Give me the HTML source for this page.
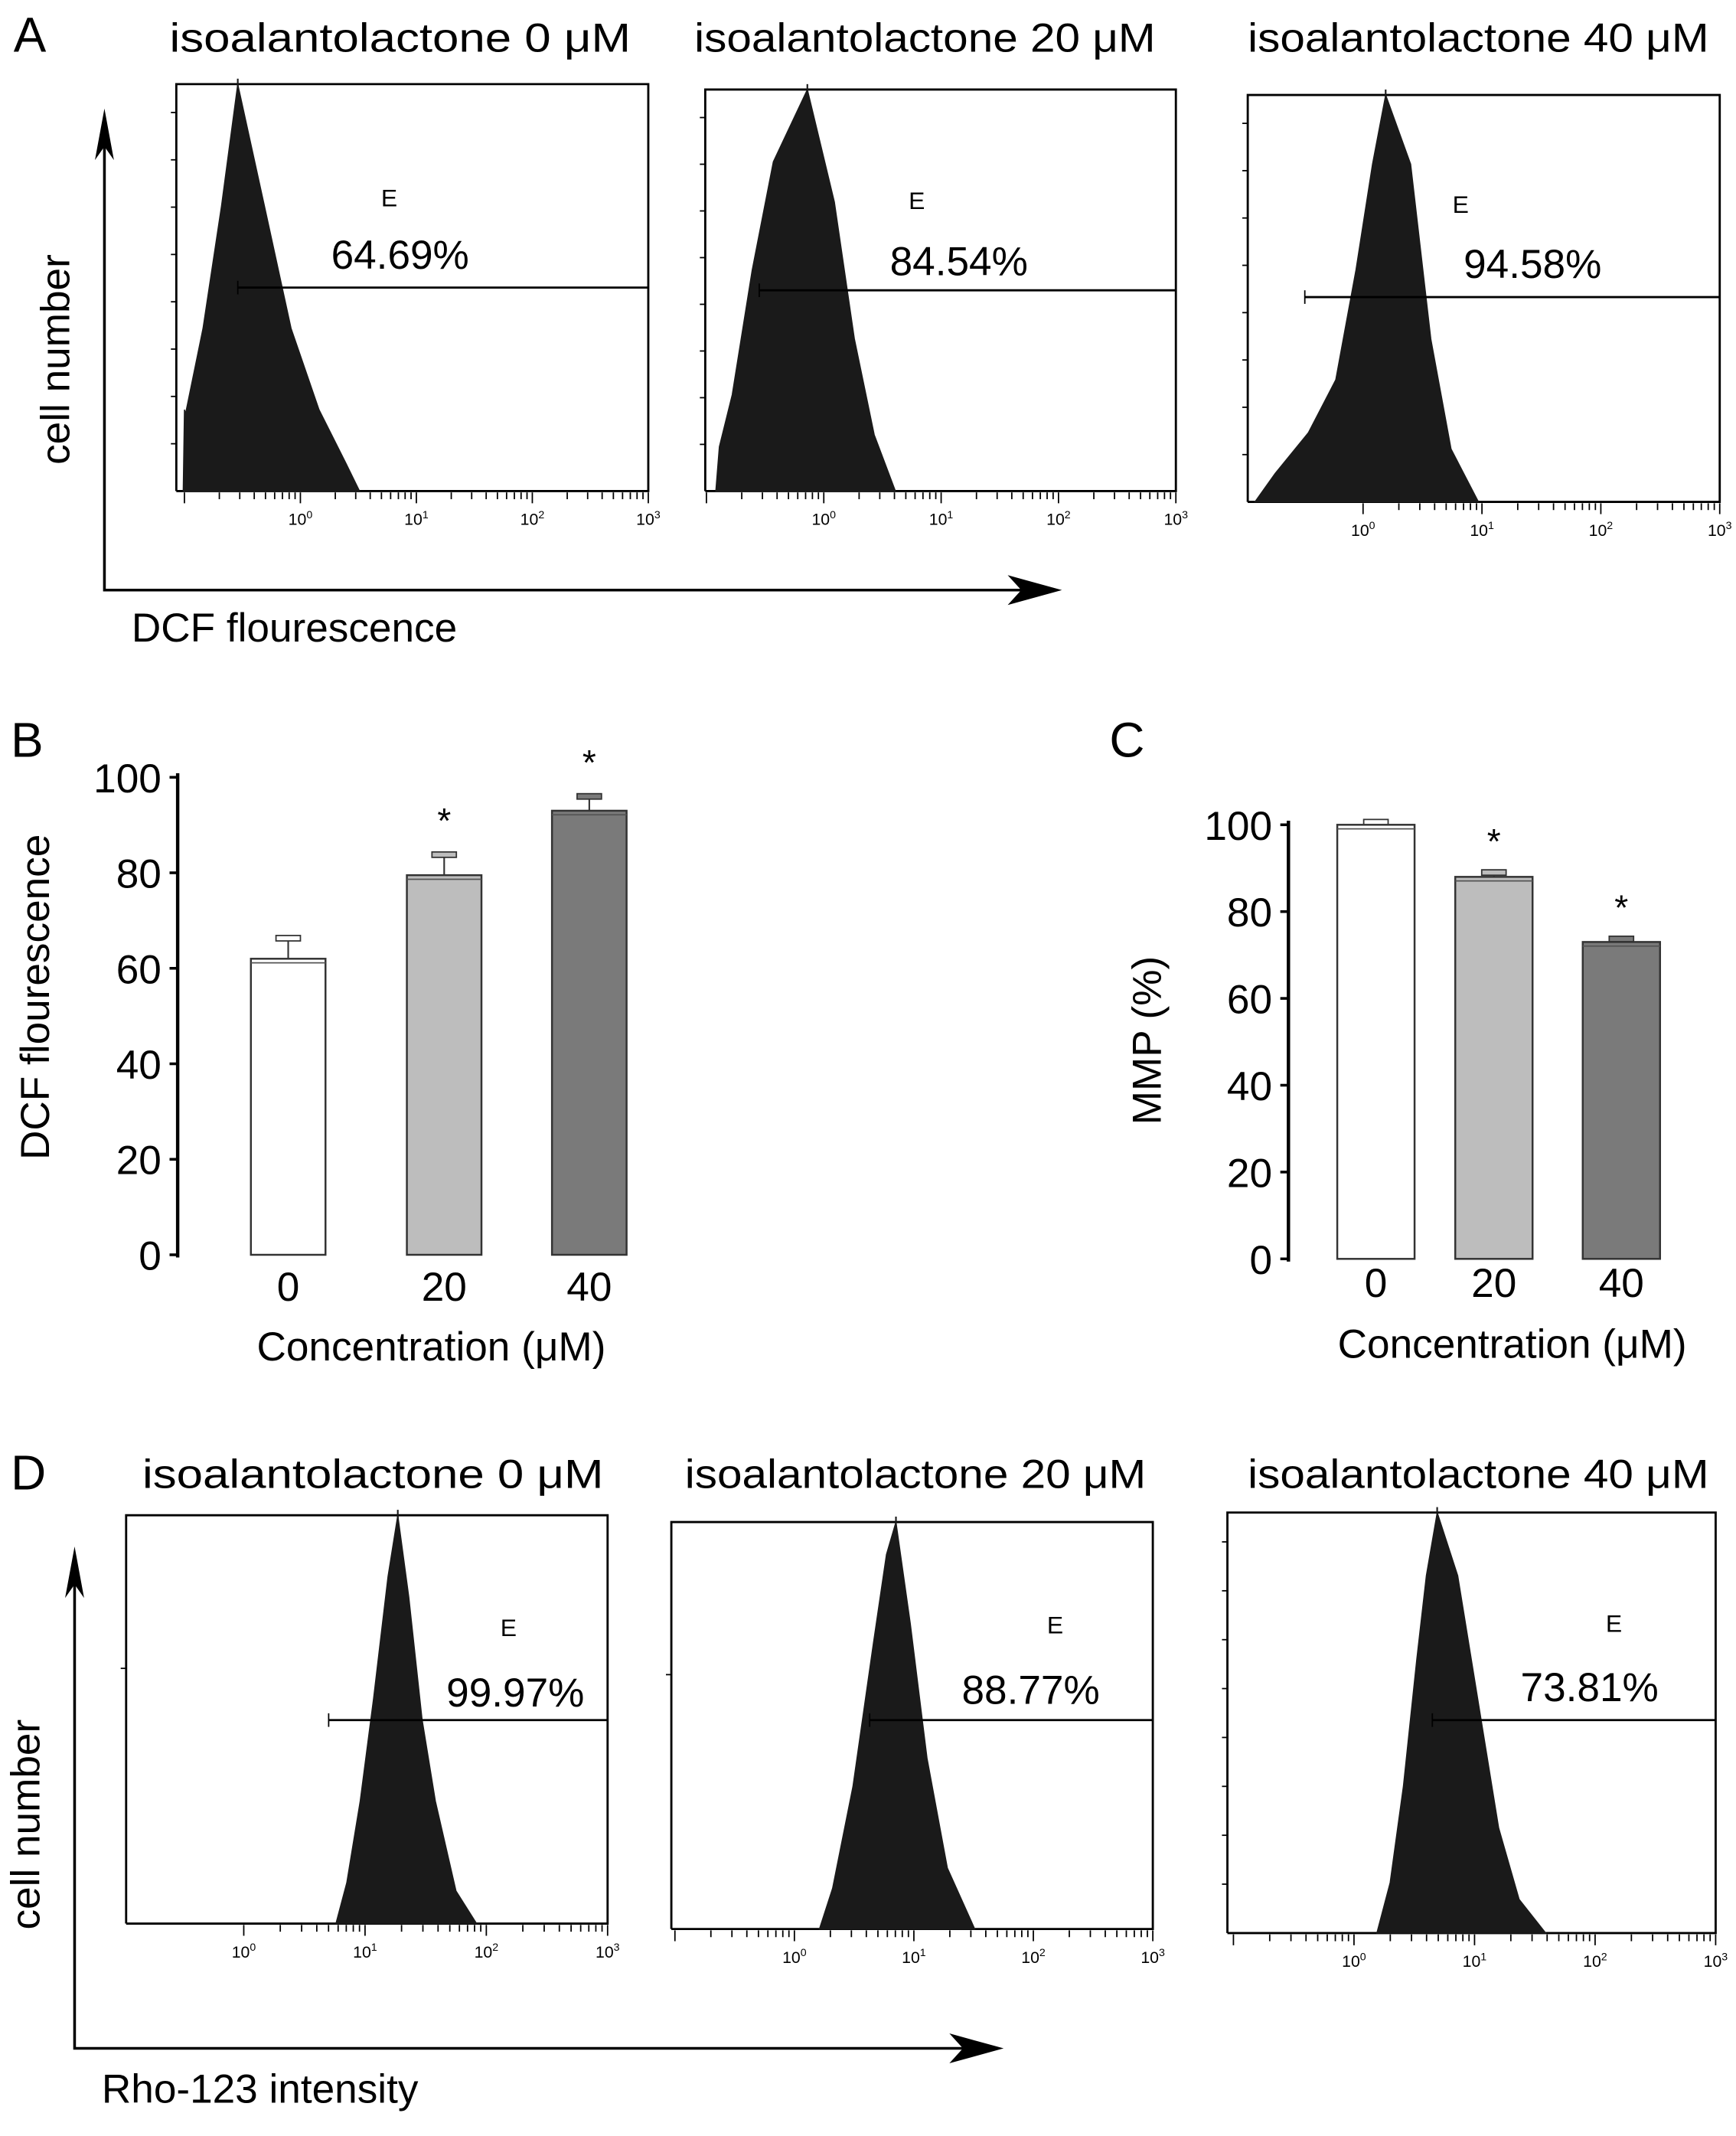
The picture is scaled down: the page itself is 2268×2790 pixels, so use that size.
<!DOCTYPE html>
<html><head><meta charset="utf-8"><style>
html,body{margin:0;padding:0;background:#fff}
svg{display:block}
text{font-family:"Liberation Sans",sans-serif;fill:#000}
</style></head><body>
<svg id="fig" width="2268" height="2790" viewBox="0 0 1280 1574.6" preserveAspectRatio="none" xmlns="http://www.w3.org/2000/svg">
<rect width="1280" height="1574.6" fill="#fff"/>
</svg>
<script>
// ---------- data ----------
const histTitles = ["isoalantolactone 0 \u03bcM","isoalantolactone 20 \u03bcM","isoalantolactone 40 \u03bcM"];
const dcfPercents = ["64.69%","84.54%","94.58%"];
const rhoPercents = ["99.97%","88.77%","73.81%"];
const tickDecades = [0,1,2,3];
const a1Logs = [-1.01,-1.0,-0.99,-0.84,-0.68,-0.54,-0.31,-0.08,0.16,0.39,0.51];
const a1Counts = [0,0.2,0.19,0.4,0.7,1.0,0.7,0.4,0.2,0.07,0];
const a2Logs = [-0.92,-0.89,-0.78,-0.61,-0.43,-0.14,0.09,0.26,0.43,0.61];
const a2Counts = [0,0.11,0.24,0.55,0.82,1.0,0.72,0.38,0.14,0];
const a3Logs = [-0.91,-0.74,-0.46,-0.23,-0.06,0.08,0.19,0.40,0.57,0.74,0.97];
const a3Counts = [0,0.07,0.17,0.3,0.57,0.83,1.0,0.83,0.4,0.13,0];
const d1Logs = [0.76,0.85,0.96,1.07,1.19,1.27,1.36,1.47,1.58,1.75,1.92];
const d1Counts = [0,0.1,0.3,0.55,0.85,1.0,0.8,0.5,0.3,0.08,0];
const d2Logs = [0.21,0.32,0.49,0.66,0.77,0.85,0.97,1.11,1.28,1.51];
const d2Counts = [0,0.1,0.35,0.7,0.92,1.0,0.75,0.42,0.15,0];
const d3Logs = [0.19,0.30,0.41,0.52,0.60,0.69,0.86,1.03,1.20,1.37,1.59];
const d3Counts = [0,0.12,0.35,0.65,0.85,1.0,0.85,0.55,0.25,0.08,0];
const gateLogsA = [-0.54,-0.55,-0.49];
const gateLogsD = [0.70,0.63,0.65];
const barCats = ["0","20","40"];
const dcfValues = [62,79.5,93];
const dcfErrors = [4.3,4.3,3];
const mmpValues = [100,88,73];
const mmpErrors = [0.6,1,0.7];
const yTicksB = [0,20,40,60,80,100];
const yTicksC = [0,20,40,60,80,100];

const svg = document.getElementById('fig');
const NS = 'http://www.w3.org/2000/svg';
function el(tag, attrs, parent){const e=document.createElementNS(NS,tag);for(const k in attrs)e.setAttribute(k,attrs[k]);(parent||svg).appendChild(e);return e;}
function txt(x,y,s,size,anchor,parent,extra){const t=el('text',Object.assign({x:x,y:y,'font-size':size,'text-anchor':anchor||'start'},extra||{}),parent);t.textContent=s;return t;}

// panel letters
[["A",10,38],["B",8,558],["C",818,558],["D",8,1098]].forEach(p=>{
  const t=txt(p[1],p[2],p[0],36);
  
  
});

// ---------- histogram panels ----------
const boxesA=[{x:130,y:62,w:348,h:300,lo:-1.07,hi:3.0,tx:295,ty:38,ex:287,ey:152,px:295,py:198,gy:212,nt:8},
              {x:520,y:66,w:347,h:296,lo:-1.01,hi:3.0,tx:682,ty:38,ex:676,ey:154,px:707,py:203,gy:214,nt:8},
              {x:920,y:70,w:348,h:300,lo:-0.97,hi:3.0,tx:1090,ty:38,ex:1077,ey:157,px:1130,py:205,gy:219,nt:8}];
const boxesD=[{x:93,y:1117,w:355,h:301,lo:-0.97,hi:3.0,tx:275,ty:1097,ex:375,ey:1206,px:380,py:1258,gy:1268,nt:1},
              {x:495,y:1122,w:355,h:300,lo:-1.03,hi:3.0,tx:675,ty:1097,ex:778,ey:1204,px:760,py:1256,gy:1268,nt:1},
              {x:905,y:1115,w:360,h:310,lo:-1.05,hi:3.0,tx:1090,ty:1097,ex:1190,ey:1203,px:1172,py:1254,gy:1268,nt:8}];
const seriesA=[[a1Logs,a1Counts],[a2Logs,a2Counts],[a3Logs,a3Counts]];
const seriesD=[[d1Logs,d1Counts],[d2Logs,d2Counts],[d3Logs,d3Counts]];

function drawHist(b,ser,title,pct,gateLog,name){
  const g=el('g',{});
  
  
  const xs=v=>b.x+(v-b.lo)/(b.hi-b.lo)*b.w;
  const ys=c=>b.y+b.h-c*b.h;
  const tt=txt(b.tx,b.ty,title,30,'middle',g,{textLength:340,lengthAdjust:'spacingAndGlyphs'});
  
  
  el('path',{d:`M${b.x} ${b.y+b.h} V${b.y} H${b.x+b.w} V${b.y+b.h} H${b.x}`,fill:'none',stroke:'#000','stroke-width':1.6},g);
  for(let i=1;i<=b.nt;i++){const yy=b.y+b.h-i*b.h/(b.nt+0.6);el('line',{x1:b.x-4,x2:b.x,y1:yy,y2:yy,stroke:'#000','stroke-width':1},g);}
  let d='';
  ser[0].forEach((v,i)=>{d+=(i?'L':'M')+xs(v).toFixed(1)+' '+ys(ser[1][i]).toFixed(1);});
  d+='Z';
  const h=el('path',{d:d,fill:'#1a1a1a',stroke:'#1a1a1a','stroke-width':0.8},g);
  
  
  const pi=ser[1].indexOf(Math.max(...ser[1]));
  el('line',{x1:xs(ser[0][pi]),x2:xs(ser[0][pi]),y1:b.y-4,y2:ys(0.9),stroke:'#1a1a1a','stroke-width':1.2},g);
  for(let dd=Math.ceil(b.lo);dd<=3;dd++){
    for(let m=1;m<10;m++){const lv=dd+Math.log10(m);if(lv<b.lo||lv>b.hi)continue;
      el('line',{x1:xs(lv),x2:xs(lv),y1:b.y+b.h+1,y2:b.y+b.h+(m===1?9:6),stroke:'#000','stroke-width':1},g);}
  }
  tickDecades.forEach(dd=>{
    const t=el('text',{x:xs(dd),y:b.y+b.h+25,'font-size':12,'text-anchor':'middle'},g);
    t.textContent='10';
    const s=el('tspan',{'font-size':8,dy:-5},t);s.textContent=String(dd);
  });
  const gx=xs(gateLog);
  el('line',{x1:gx,x2:b.x+b.w,y1:b.gy,y2:b.gy,stroke:'#000','stroke-width':1.6},g);
  el('line',{x1:gx,x2:gx,y1:b.gy-5,y2:b.gy+5,stroke:'#000','stroke-width':1},g);
  el('line',{x1:b.x+b.w,x2:b.x+b.w,y1:b.gy-5,y2:b.gy+5,stroke:'#000','stroke-width':1},g);
  txt(b.ex,b.ey,'E',18,'middle',g);
  const pt=txt(b.px,b.py,pct,30,'middle',g);
  
  
}
boxesA.forEach((b,i)=>drawHist(b,seriesA[i],histTitles[i],dcfPercents[i],gateLogsA[i],'dcf-histogram-'+i));
boxesD.forEach((b,i)=>drawHist(b,seriesD[i],histTitles[i],rhoPercents[i],gateLogsD[i],'rho-histogram-'+i));

function arrows(x0,yTop,yBot,xRight,ylab,xlab,ylabY,xlabY,name){
  const g=el('g',{});
  
  
  el('path',{d:`M${x0} ${yTop+20} V${yBot} H${xRight-20}`,fill:'none',stroke:'#000','stroke-width':2},g);
  el('path',{d:`M${x0} ${yTop} L${x0-7} ${yTop+38} L${x0} ${yTop+28} L${x0+7} ${yTop+38}Z`,fill:'#000'},g);
  el('path',{d:`M${xRight} ${yBot} L${xRight-40} ${yBot-11} L${xRight-30} ${yBot} L${xRight-40} ${yBot+11}Z`,fill:'#000'},g);
  const t1=txt(0,0,ylab,30,'middle',g,{transform:`translate(${x0-26},${ylabY}) rotate(-90)`});
  
  
  const t2=txt(x0+20,xlabY,xlab,30,'start',g);
  
  
}
arrows(77,80,435,783,'cell number','DCF flourescence',265,473,'dcf-axes');
arrows(55,1140,1510,740,'cell number','Rho-123 intensity',1345,1550,'rho-axes');

const barFills=['#ffffff','#bdbdbd','#7a7a7a'];
function barChart(cfg,vals,errs,ticks,name){
  const g=el('g',{});
  
  
  const ys=v=>cfg.y0-v*(cfg.y0-cfg.y100)/100;
  el('line',{x1:cfg.ax,x2:cfg.ax,y1:ys(100)-3,y2:ys(0)+2,stroke:'#000','stroke-width':2.5},g);
  ticks.forEach(t=>{
    el('line',{x1:cfg.ax-6,x2:cfg.ax,y1:ys(t),y2:ys(t),stroke:'#000','stroke-width':2},g);
    txt(cfg.ax-12,ys(t)+11,String(t),30,'end',g);
  });
  vals.forEach((v,i)=>{
    const x=cfg.bx[i],w=cfg.bw;
    el('line',{x1:x+w/2,x2:x+w/2,y1:ys(v),y2:ys(v+errs[i]),stroke:'#333','stroke-width':1.2},g);
    el('rect',{x:x+w/2-9,y:ys(v+errs[i])-2,width:18,height:4,fill:barFills[i],stroke:'#333','stroke-width':1},g);
    const r=el('rect',{x:x,y:ys(v),width:w,height:ys(0)-ys(v),fill:barFills[i],stroke:'#333','stroke-width':1.4},g);
    
    
    el('line',{x1:x,x2:x+w,y1:ys(v)+3,y2:ys(v)+3,stroke:'#555','stroke-width':1},g);
    txt(x+w/2,cfg.xly,barCats[i],30,'middle',g);
    if(i>0){const s=txt(x+w/2,ys(v+errs[i])-cfg.starGap,'*',26,'middle',g);
      
      }
  });
  const xt=txt(cfg.xtx,cfg.xty,'Concentration (\u03bcM)',30,'middle',g);
  
  
  const yt=txt(0,0,cfg.ytitle,30,'middle',g,{transform:`translate(${cfg.ytx},${cfg.yty}) rotate(-90)`});
  
  
}
barChart({ax:131,y0:925,y100:573,bx:[185,300,407],bw:55,xly:959,xtx:318,xty:1003,ytitle:'DCF flourescence',ytx:36,yty:735,starGap:16},dcfValues,dcfErrors,yTicksB,'dcf-bar-chart');
barChart({ax:950,y0:928,y100:608,bx:[986,1073,1167],bw:57,xly:956,xtx:1115,xty:1001,ytitle:'MMP (%)',ytx:856,yty:767,starGap:14},mmpValues,mmpErrors,yTicksC,'mmp-bar-chart');
</script>
</body></html>
